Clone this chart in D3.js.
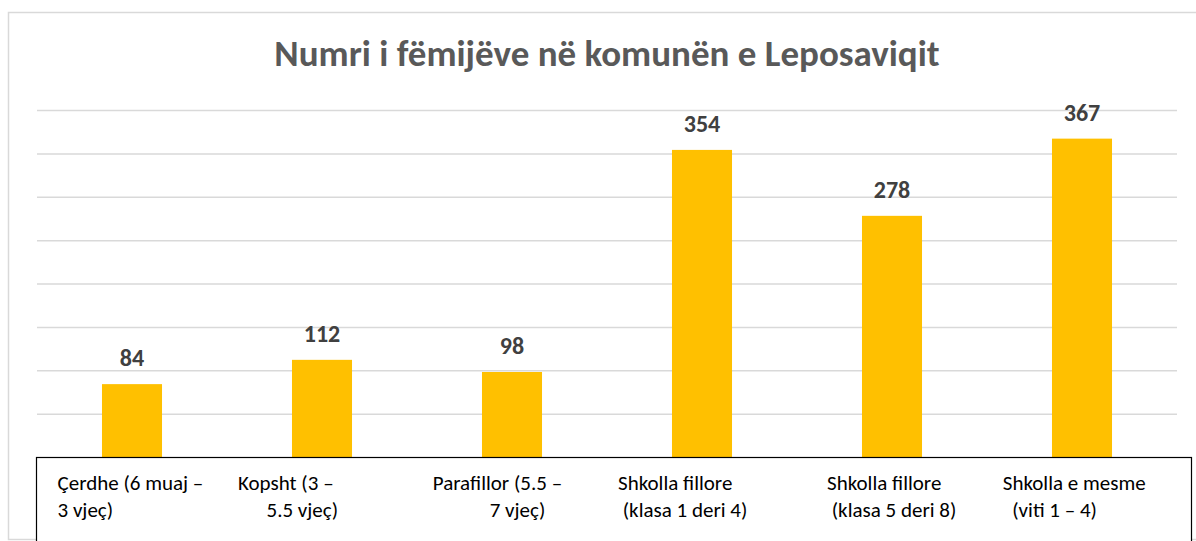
<!DOCTYPE html>
<html>
<head>
<meta charset="utf-8">
<script src="https://cdn.jsdelivr.net/npm/d3@7"></script>
<style>
  body { margin: 0; background: #fff; }
  svg text { font-family: Calibri, Carlito, Lato, sans-serif; }
  .cat-label { white-space: pre; }
</style>
</head>
<body>
<svg id="chart"></svg>
<script>
// data
const categories = ["cerdhe", "kopsht", "parafillor", "fillore14", "fillore58", "mesme"];
const values = [84, 112, 98, 354, 278, 367];
// label lines as typed in the text box (leading spaces kept)
const labelLines = [
  ["  Çerdhe (6 muaj –", "  3 vjeç)"],
  ["Kopsht (3 –", "      5.5 vjeç)"],
  [" Parafillor (5.5 –", "             7 vjeç)"],
  ["Shkolla fillore", " (klasa 1 deri 4)"],
  ["    Shkolla fillore", "     (klasa 5 deri 8)"],
  [" Shkolla e mesme", "   (viti 1 – 4)"]
];
const yTicks = [50, 100, 150, 200, 250, 300, 350, 400];
const title = "Numri i fëmijëve në komunën e Leposaviqit";

const W = 1196, H = 541;
const margin = { top: 110, right: 19, bottom: 84, left: 37 },
      width = W - margin.left - margin.right,
      height = H - margin.top - margin.bottom;

const svg = d3.select("#chart").attr("width", W).attr("height", H);

// outer chart border
svg.append("rect")
   .attr("x", 8.5).attr("y", 12.5)
   .attr("width", W + 10).attr("height", 527)
   .attr("fill", "#fff")
   .attr("stroke", "#d9d9d9").attr("stroke-width", 1.5);

const g = svg.append("g").attr("transform", `translate(${margin.left}, ${margin.top})`);

const x = d3.scaleBand().domain(categories).range([0, width]).paddingInner(0.684).paddingOuter(0.342);
const y = d3.scaleLinear().domain([0, 400]).range([height, 0]);

// gridlines
const grid = g.append("g")
   .call(d3.axisLeft(y).tickValues(yTicks).tickSize(-width).tickFormat(""));
grid.select(".domain").remove();
grid.selectAll(".tick line").attr("stroke", "#d9d9d9").attr("stroke-width", 1.5);

// bars
g.selectAll("rect.bar")
 .data(values)
 .enter().append("rect")
 .attr("class", "bar")
 .attr("x", (d, i) => x(categories[i]))
 .attr("y", d => y(d))
 .attr("width", x.bandwidth())
 .attr("height", d => height - y(d))
 .attr("fill", "#ffc000");

// data labels
g.selectAll("text.val")
 .data(values)
 .enter().append("text")
 .attr("class", "val")
 .attr("x", (d, i) => x(categories[i]) + x.bandwidth() / 2)
 .attr("y", d => y(d) - 18)
 .attr("text-anchor", "middle")
 .style("font-size", "24px")
 .style("font-weight", "bold")
 .attr("fill", "#404040")
 .text(d => d);

// title
svg.append("text")
   .attr("x", margin.left + width / 2)
   .attr("y", 66)
   .attr("text-anchor", "middle")
   .style("font-size", "37px")
   .style("font-weight", "bold")
   .attr("fill", "#595959")
   .text(title);

// text box over the category axis
svg.append("rect")
   .attr("x", 36.5).attr("y", margin.top + height + 0.5)
   .attr("width", 1155).attr("height", 100)
   .attr("fill", "#fff")
   .attr("stroke", "#000").attr("stroke-width", 1.2);

const step = x.step();
const labels = svg.append("g")
 .attr("transform", `translate(${margin.left}, ${margin.top})`)
 .selectAll("g.cat")
 .data(labelLines)
 .enter().append("g")
 .attr("class", "cat")
 .attr("transform", (d, i) => `translate(${x(categories[i]) - x.paddingOuter() * step + 11}, ${height + 33})`);

labels.selectAll("text")
 .data(d => d)
 .enter().append("text")
 .attr("class", "cat-label")
 .attr("xml:space", "preserve")
 .attr("y", (d, i) => i * 26.5)
 .style("font-size", "21px")
 .attr("fill", "#000")
 .text(d => d);
</script>
</body>
</html>
